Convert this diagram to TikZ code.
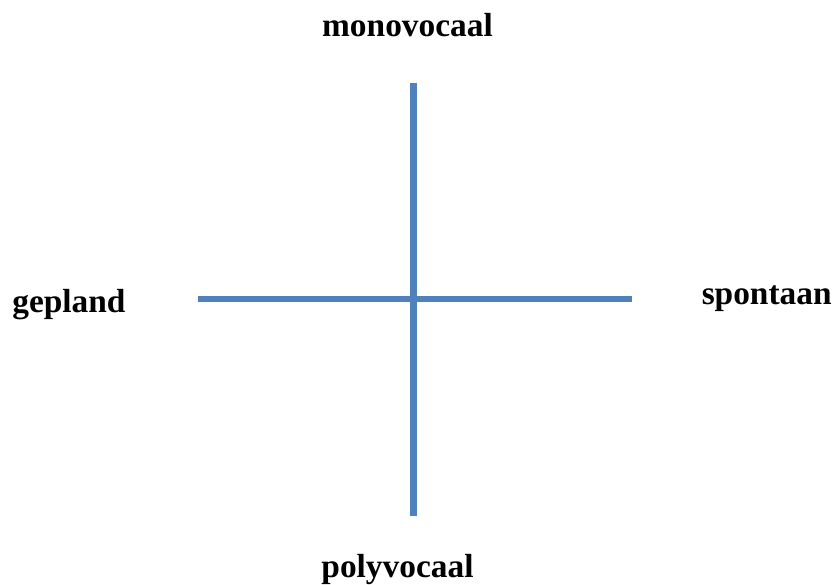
\documentclass[tikz,border=0pt]{standalone}
\usepackage{fontspec}
\setmainfont{Liberation Serif}
\usepackage{tikz}
\usetikzlibrary{positioning}
\usepackage{xcolor}
\definecolor{axisblue}{HTML}{4F81BD}

\begin{document}
\begin{tikzpicture}[
      axis/.style={axisblue, line width=0.13cm},
      pole/.style={inner sep=0pt, font=\fontsize{19}{23}\selectfont\bfseries}
    ]
      \useasboundingbox (0,0) rectangle (16.68,11.7);

      % Axes
      \coordinate (vtop) at (8.27, 10.04);
      \coordinate (vbot) at (8.27, 1.38);
      \coordinate (hleft) at (3.96, 5.72);
      \coordinate (hright) at (12.64, 5.72);
      \draw[axis] (vtop) -- (vbot);
      \draw[axis] (hleft) -- (hright);

      % Poles
      \node[pole, anchor=base] (mono) at (8.15, 10.96) {monovocaal};
      \node[pole, anchor=base] (poly) at (7.95, 0.14) {polyvocaal};
      \node[pole, anchor=base west] (gepland) at (0.24, 5.44) {gepland};
      \node[pole, anchor=base east] (spontaan) at (16.64, 5.6) {spontaan};
    \end{tikzpicture}
\end{document}
